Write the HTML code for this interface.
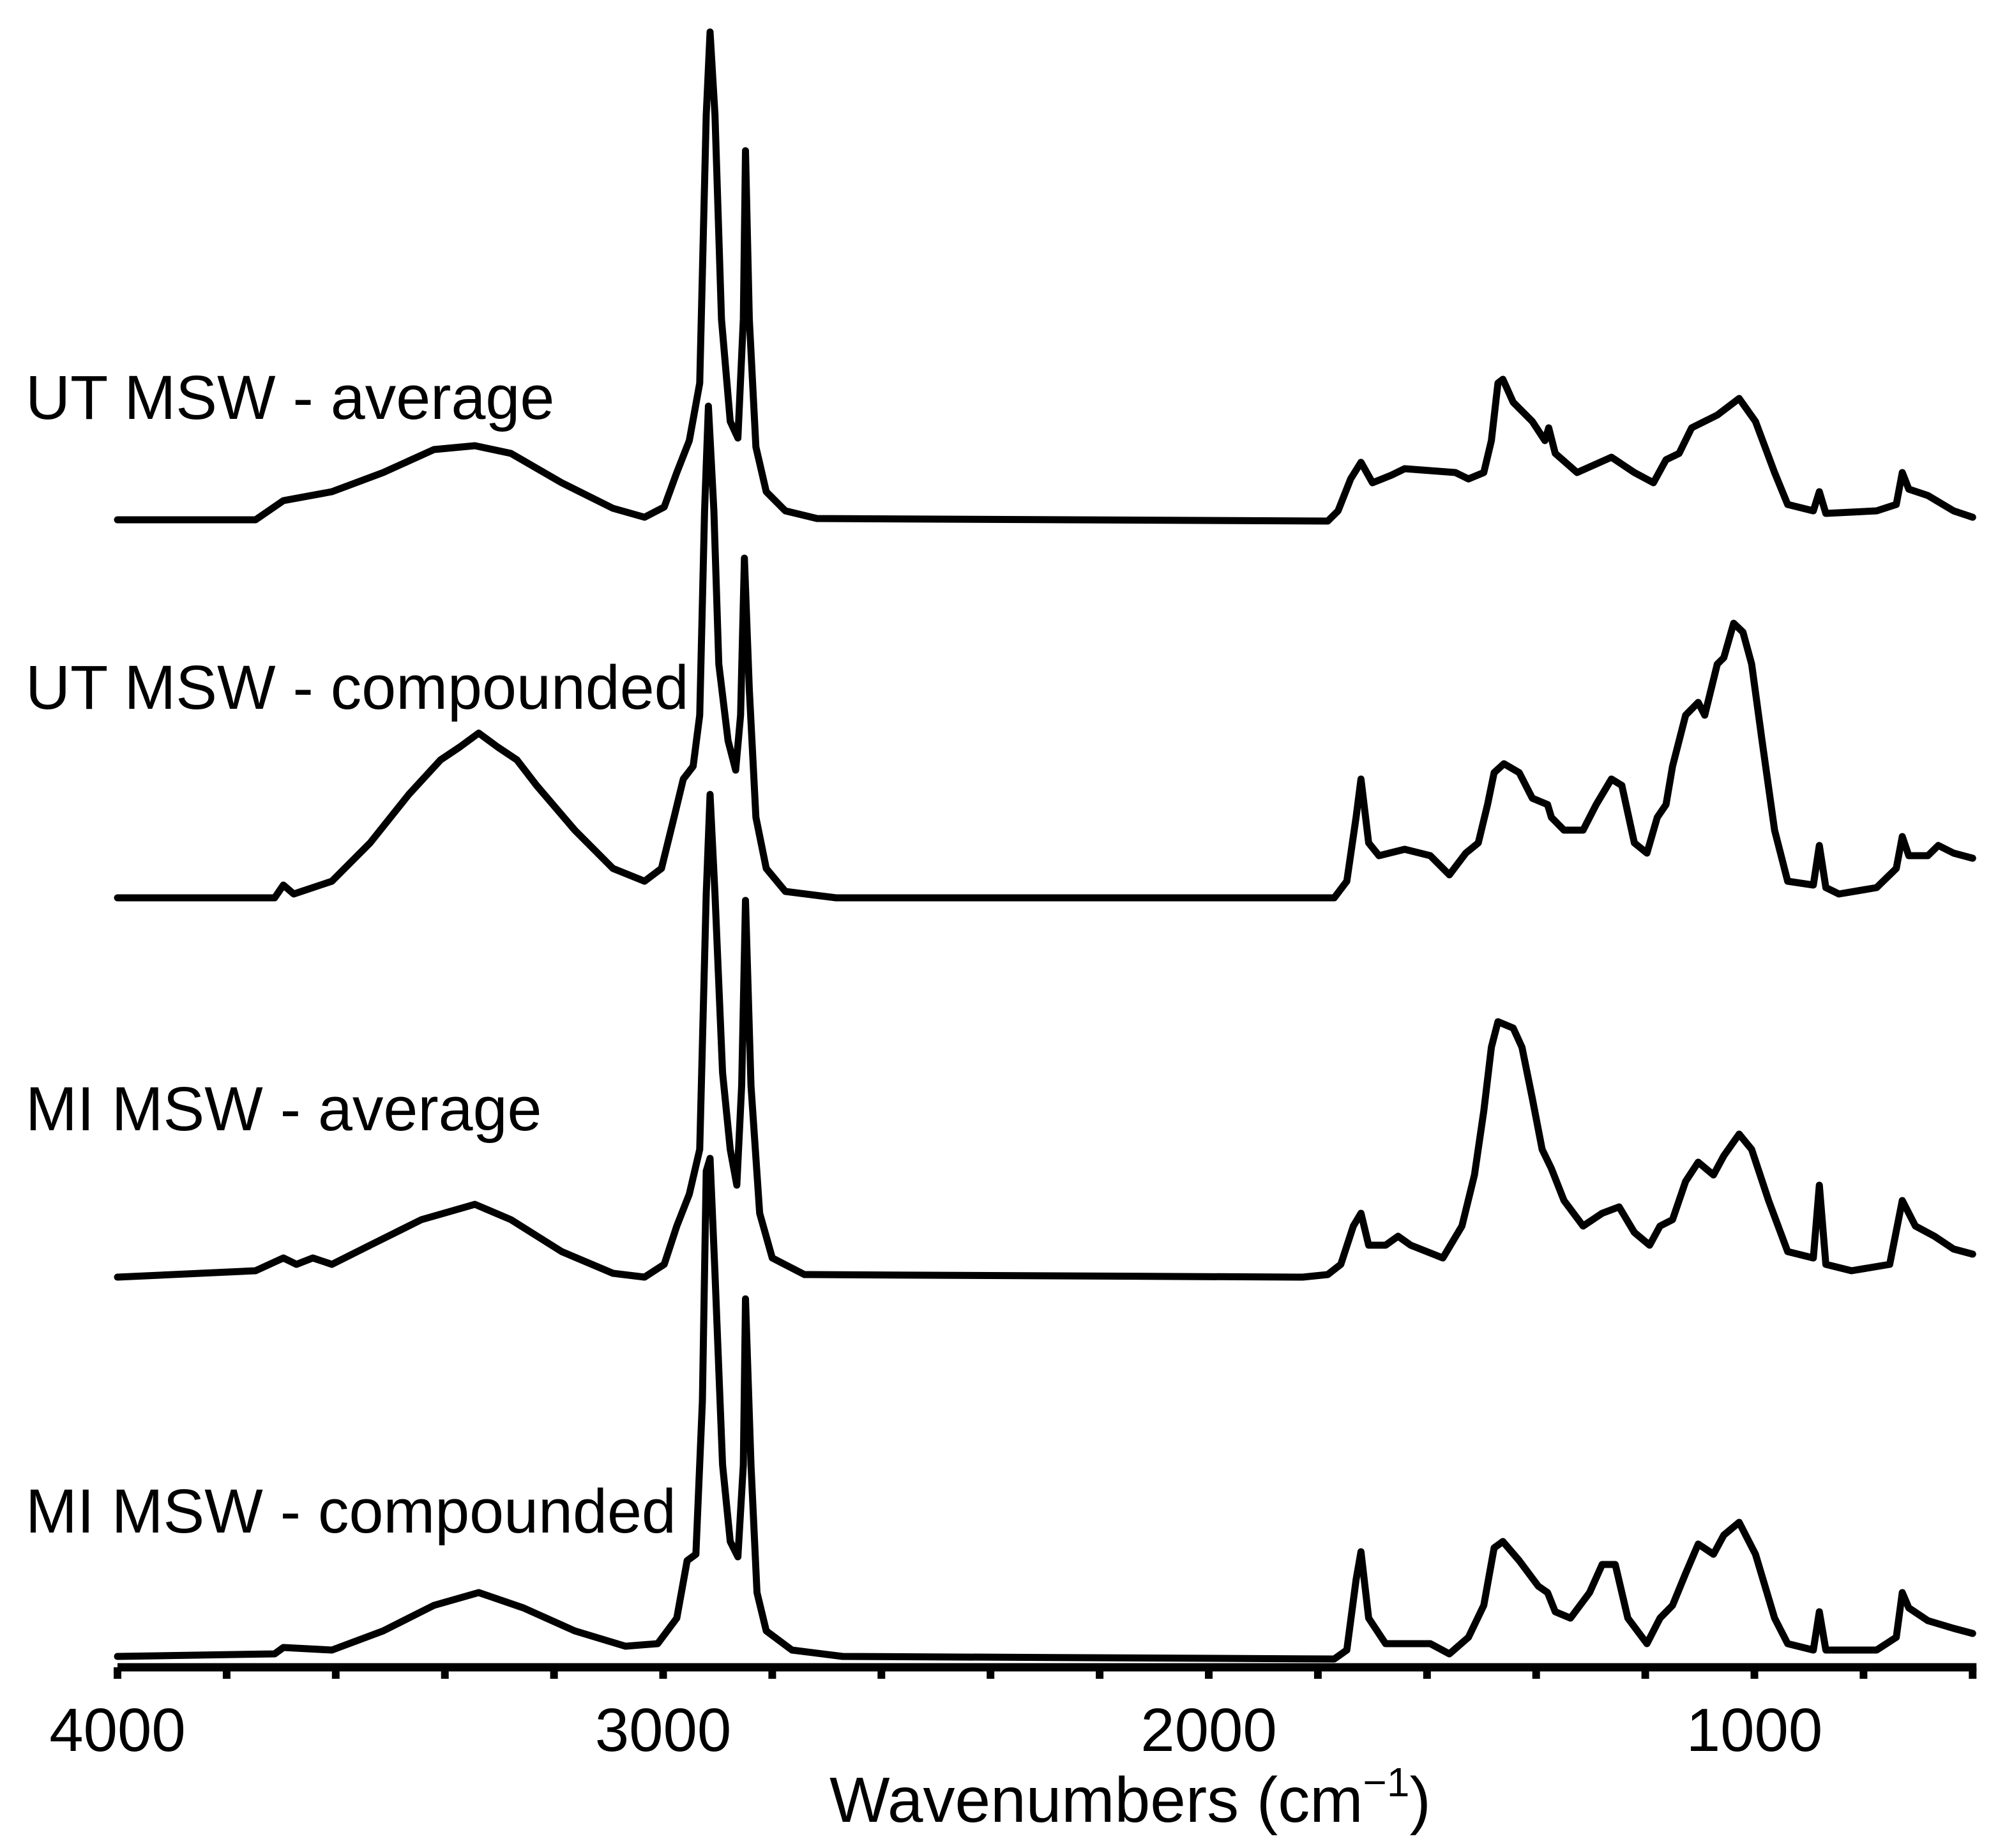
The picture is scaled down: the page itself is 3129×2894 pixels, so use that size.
<!DOCTYPE html>
<html><head><meta charset="utf-8">
<style>
html,body{margin:0;padding:0;background:#fff;}
svg{display:block;}
text{font-family:"Liberation Sans",Arial,sans-serif;fill:#000;}
</style></head>
<body>
<svg id="chart" width="3129" height="2894" viewBox="0 0 3129 2894" xmlns="http://www.w3.org/2000/svg">
  <g id="series"></g>
  <g id="axis"></g>
  <text x="40" y="656" font-size="97">UT MSW - average</text>
  <text x="40" y="1110" font-size="97">UT MSW - compounded</text>
  <text x="40" y="1770" font-size="97">MI MSW - average</text>
  <text x="40" y="2400" font-size="97">MI MSW - compounded</text>
  <text x="1770" y="2853" font-size="100" text-anchor="middle">Wavenumbers (cm<tspan font-size="64" dy="-40">−1</tspan><tspan dy="40">)</tspan></text>
</svg>
<script>
const tickValues = [4000,3800,3600,3400,3200,3000,2800,2600,2400,2200,2000,1800,1600,1400,1200,1000,800,600];
const tickLabels = ["4000","3000","2000","1000"];

const utAvgWn = [4000,3747,3696,3607,3513,3420,3345,3279,3186,3092,3034,2998,2975,2952,2933,2921,2914,2905,2893,2877,2863,2853,2849,2842,2830,2811,2776,2718,1782,1763,1740,1721,1700,1665,1641,1548,1524,1496,1482,1470,1461,1442,1407,1384,1377,1365,1325,1262,1220,1185,1162,1138,1115,1068,1028,998,963,939,892,881,869,776,740,729,717,682,635,600];
const utAvgAbs = [0,0,0.15,0.22,0.37,0.55,0.58,0.52,0.29,0.09,0.02,0.10,0.37,0.62,1.07,3.17,3.82,3.17,1.57,0.77,0.64,1.57,2.89,1.57,0.57,0.22,0.07,0.01,-0.01,0.07,0.32,0.45,0.29,0.35,0.40,0.37,0.32,0.37,0.62,1.07,1.10,0.92,0.77,0.62,0.72,0.52,0.37,0.49,0.37,0.29,0.47,0.52,0.72,0.82,0.95,0.77,0.37,0.12,0.07,0.22,0.05,0.07,0.12,0.37,0.24,0.19,0.07,0.02];

const utCmpWn = [4000,3712,3696,3677,3607,3537,3466,3408,3373,3338,3303,3268,3232,3162,3092,3034,3003,2980,2963,2945,2933,2924,2917,2907,2898,2881,2867,2858,2851,2842,2830,2811,2776,2683,1770,1747,1730,1721,1707,1688,1641,1594,1559,1529,1506,1489,1477,1459,1431,1407,1379,1372,1349,1314,1290,1262,1243,1220,1197,1178,1162,1150,1126,1103,1091,1068,1056,1038,1021,1005,986,963,939,892,881,869,845,776,740,729,717,682,663,635,600];
const utCmpAbs = [0,0,0.10,0.03,0.13,0.43,0.81,1.08,1.18,1.29,1.18,1.08,0.88,0.53,0.23,0.13,0.23,0.63,0.93,1.03,1.43,3.03,3.85,3.03,1.83,1.23,1.00,1.43,2.66,1.63,0.63,0.23,0.05,0,0,0.13,0.63,0.93,0.43,0.33,0.38,0.33,0.18,0.35,0.43,0.73,0.98,1.05,0.98,0.78,0.73,0.63,0.53,0.53,0.73,0.93,0.88,0.43,0.35,0.63,0.73,1.03,1.43,1.53,1.43,1.83,1.88,2.15,2.08,1.83,1.23,0.53,0.13,0.10,0.41,0.08,0.03,0.08,0.23,0.48,0.33,0.33,0.41,0.35,0.31];

const miAvgWn = [4000,3747,3696,3672,3642,3607,3537,3443,3345,3279,3186,3092,3034,2998,2975,2952,2933,2921,2914,2905,2891,2877,2865,2856,2849,2839,2823,2800,2741,1828,1782,1758,1735,1721,1707,1676,1653,1630,1571,1536,1513,1496,1482,1470,1442,1426,1407,1389,1372,1349,1314,1279,1248,1220,1192,1173,1150,1126,1103,1075,1056,1028,1005,974,939,892,881,869,822,752,729,705,670,635,600];
const miAvgAbs = [0,0.05,0.15,0.10,0.15,0.10,0.25,0.45,0.57,0.45,0.20,0.03,0,0.10,0.40,0.65,1.00,3.00,3.78,3.00,1.60,1.00,0.72,1.50,2.95,1.50,0.50,0.15,0.02,0,0.02,0.10,0.40,0.50,0.25,0.25,0.32,0.25,0.15,0.40,0.80,1.30,1.80,2.00,1.95,1.80,1.40,1.00,0.85,0.60,0.40,0.50,0.55,0.35,0.25,0.40,0.45,0.75,0.90,0.80,0.95,1.12,1.00,0.60,0.20,0.15,0.72,0.10,0.05,0.10,0.60,0.40,0.32,0.22,0.18];

const miCmpWn = [4000,3712,3696,3607,3513,3420,3338,3256,3162,3069,3010,2975,2956,2940,2928,2921,2914,2905,2891,2877,2863,2853,2849,2839,2828,2811,2764,2671,1770,1747,1730,1721,1707,1676,1594,1559,1524,1496,1477,1461,1431,1396,1379,1365,1337,1302,1279,1255,1232,1197,1173,1150,1126,1103,1075,1056,1028,998,963,939,892,881,869,776,740,729,717,682,635,600];
const miCmpAbs = [0,0.02,0.07,0.05,0.20,0.40,0.50,0.38,0.20,0.08,0.10,0.30,0.75,0.80,2.00,3.80,3.90,3.00,1.50,0.90,0.78,1.50,2.80,1.50,0.50,0.20,0.05,0,-0.02,0.05,0.60,0.82,0.30,0.10,0.10,0.02,0.15,0.40,0.85,0.90,0.75,0.55,0.50,0.35,0.30,0.50,0.72,0.72,0.30,0.10,0.30,0.40,0.65,0.88,0.80,0.95,1.05,0.80,0.30,0.10,0.05,0.35,0.05,0.05,0.15,0.50,0.38,0.28,0.22,0.18];

const NS = "http://www.w3.org/2000/svg";
const X0 = 184, PX_PER_WN = 0.8545, AXIS_Y = 2611, UNIT = 200;
function xScale(w){ return X0 + (4000 - w) * PX_PER_WN; }
function yScale(base, a){ return base - a * UNIT; }

const seriesG = document.getElementById('series');
function drawSeries(wn, abs, base, name){
  let d = '';
  for (let i = 0; i < wn.length; i++){
    d += (i ? 'L' : 'M') + xScale(wn[i]).toFixed(1) + ' ' + yScale(base, abs[i]).toFixed(1);
  }
  const p = document.createElementNS(NS, 'path');
  p.setAttribute('d', d);
  p.setAttribute('fill', 'none');
  p.setAttribute('stroke', '#000');
  p.setAttribute('stroke-width', '11');
  p.setAttribute('stroke-linejoin', 'round');
  p.setAttribute('stroke-linecap', 'round');
  
  
  seriesG.appendChild(p);
}
drawSeries(utAvgWn, utAvgAbs, 814, 'series-ut-msw-average');
drawSeries(utCmpWn, utCmpAbs, 1406, 'series-ut-msw-compounded');
drawSeries(miAvgWn, miAvgAbs, 2000, 'series-mi-msw-average');
drawSeries(miCmpWn, miCmpAbs, 2594, 'series-mi-msw-compounded');

const axisG = document.getElementById('axis');
const line = document.createElementNS(NS, 'line');
line.setAttribute('x1', xScale(4000)); line.setAttribute('x2', xScale(600) + 6);
line.setAttribute('y1', AXIS_Y); line.setAttribute('y2', AXIS_Y);
line.setAttribute('stroke', '#000'); line.setAttribute('stroke-width', '13');


axisG.appendChild(line);
tickValues.forEach(v => {
  const t = document.createElementNS(NS, 'line');
  const x = xScale(v);
  t.setAttribute('x1', x); t.setAttribute('x2', x);
  t.setAttribute('y1', AXIS_Y); t.setAttribute('y2', AXIS_Y + 18);
  t.setAttribute('stroke', '#000'); t.setAttribute('stroke-width', '12');
  
  
  axisG.appendChild(t);
});
tickLabels.forEach(s => {
  const tx = document.createElementNS(NS, 'text');
  tx.setAttribute('x', xScale(+s));
  tx.setAttribute('y', 2742);
  tx.setAttribute('font-size', '96');
  tx.setAttribute('text-anchor', 'middle');
  
  
  tx.textContent = s;
  axisG.appendChild(tx);
});
</script>
</body></html>
